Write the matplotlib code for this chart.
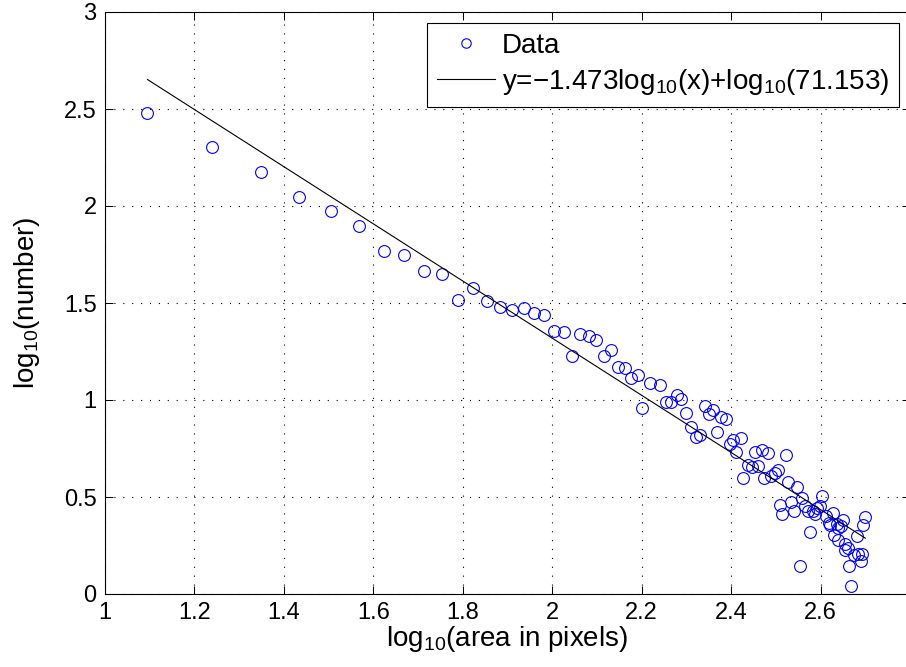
import matplotlib
matplotlib.use('Agg')
import matplotlib.pyplot as plt
import numpy as np

plt.rcParams['font.family'] = ['Liberation Sans', 'DejaVu Sans']
plt.rcParams['mathtext.fontset'] = 'custom'
plt.rcParams['mathtext.rm'] = 'Liberation Sans'
plt.rcParams['mathtext.it'] = 'Liberation Sans'

# log10(area in pixels) / log10(number)
log_area = [1.095, 1.239, 1.348, 1.434, 1.506, 1.568, 1.623, 1.668, 1.713, 1.753,
            1.789, 1.823, 1.854, 1.883, 1.911, 1.936, 1.960, 1.982, 2.005, 2.026,
            2.044, 2.063, 2.082, 2.099, 2.116, 2.132, 2.147, 2.162, 2.177, 2.192,
            2.201, 2.218, 2.242, 2.254, 2.266, 2.278, 2.289, 2.300, 2.311, 2.321,
            2.331, 2.341, 2.350, 2.360, 2.369, 2.378, 2.388, 2.397, 2.404, 2.412,
            2.421, 2.427, 2.438, 2.446, 2.453, 2.461, 2.468, 2.474, 2.483, 2.489,
            2.499, 2.504, 2.510, 2.514, 2.522, 2.528, 2.535, 2.541, 2.547, 2.553,
            2.558, 2.565, 2.571, 2.576, 2.584, 2.588, 2.591, 2.599, 2.604, 2.612,
            2.618, 2.621, 2.627, 2.631, 2.636, 2.638, 2.640, 2.646, 2.651, 2.655,
            2.655, 2.662, 2.664, 2.668, 2.674, 2.681, 2.683, 2.691, 2.692, 2.696,
            2.700]
log_num = [2.478, 2.303, 2.173, 2.046, 1.973, 1.896, 1.769, 1.750, 1.663, 1.649,
           1.518, 1.577, 1.510, 1.479, 1.465, 1.472, 1.448, 1.438, 1.358, 1.350,
           1.228, 1.341, 1.331, 1.307, 1.225, 1.259, 1.170, 1.165, 1.115, 1.131,
           0.960, 1.088, 1.076, 0.991, 0.991, 1.025, 1.003, 0.934, 0.863, 0.808,
           0.821, 0.968, 0.926, 0.948, 0.837, 0.914, 0.900, 0.774, 0.794, 0.734,
           0.803, 0.598, 0.666, 0.657, 0.734, 0.661, 0.743, 0.598, 0.729, 0.606,
           0.623, 0.637, 0.459, 0.410, 0.719, 0.575, 0.473, 0.427, 0.551, 0.143,
           0.495, 0.452, 0.427, 0.318, 0.427, 0.410, 0.444, 0.452, 0.504, 0.401,
           0.367, 0.358, 0.415, 0.302, 0.363, 0.278, 0.341, 0.350, 0.380, 0.256,
           0.227, 0.239, 0.144, 0.039, 0.199, 0.298, 0.204, 0.170, 0.204, 0.358,
           0.398]

slope = -1.473
coef = 71.153
fit_label = 'y=\u22121.473log$_{10}$(x)+log$_{10}$(71.153)'

x = np.array(log_area)
y = np.array(log_num)
xfit = np.array([x.min(), x.max()])
yfit = slope * xfit + np.log(coef)

fig = plt.figure(figsize=(9.06, 6.67), dpi=100)
ax = fig.add_axes([105/906, 1-594/667, 805/906, 582/667])

ax.plot(x, y, 'o', mfc='none', mec='#0000ff', ms=8.5, mew=0.8, label='Data')
ax.plot(xfit, yfit, '-', color='k', lw=0.8, label=fit_label)

ax.set_xlim(1, 2.8)
ax.set_ylim(0, 3)
ax.set_xticks(np.arange(1, 2.81, 0.2))
ax.set_xticklabels(['1', '1.2', '1.4', '1.6', '1.8', '2', '2.2', '2.4', '2.6', ''])
ax.set_yticks(np.arange(0, 3.01, 0.5))
ax.set_yticklabels(['0', '0.5', '1', '1.5', '2', '2.5', '3'])
ax.grid(True, color='k', linestyle=(0, (1, 7)), linewidth=0.8)
ax.tick_params(direction='in', length=6, width=0.7, top=True, right=True,
               labelsize=17, pad=6)
for s in ax.spines.values():
    s.set_linewidth(0.8)

ax.set_xlabel('log$_{10}$(area in pixels)', fontsize=20, labelpad=0)
ax.set_ylabel('log$_{10}$(number)', fontsize=20, labelpad=16)

leg = ax.legend(loc='upper right', fontsize=20, frameon=True, fancybox=False,
                edgecolor='k', framealpha=1, borderaxespad=0.4,
                handlelength=2.1, handletextpad=0.25, labelspacing=0.3,
                borderpad=0.35, markerscale=0.8)
leg.get_frame().set_linewidth(0.8)

fig.savefig('out.png', dpi=100)
